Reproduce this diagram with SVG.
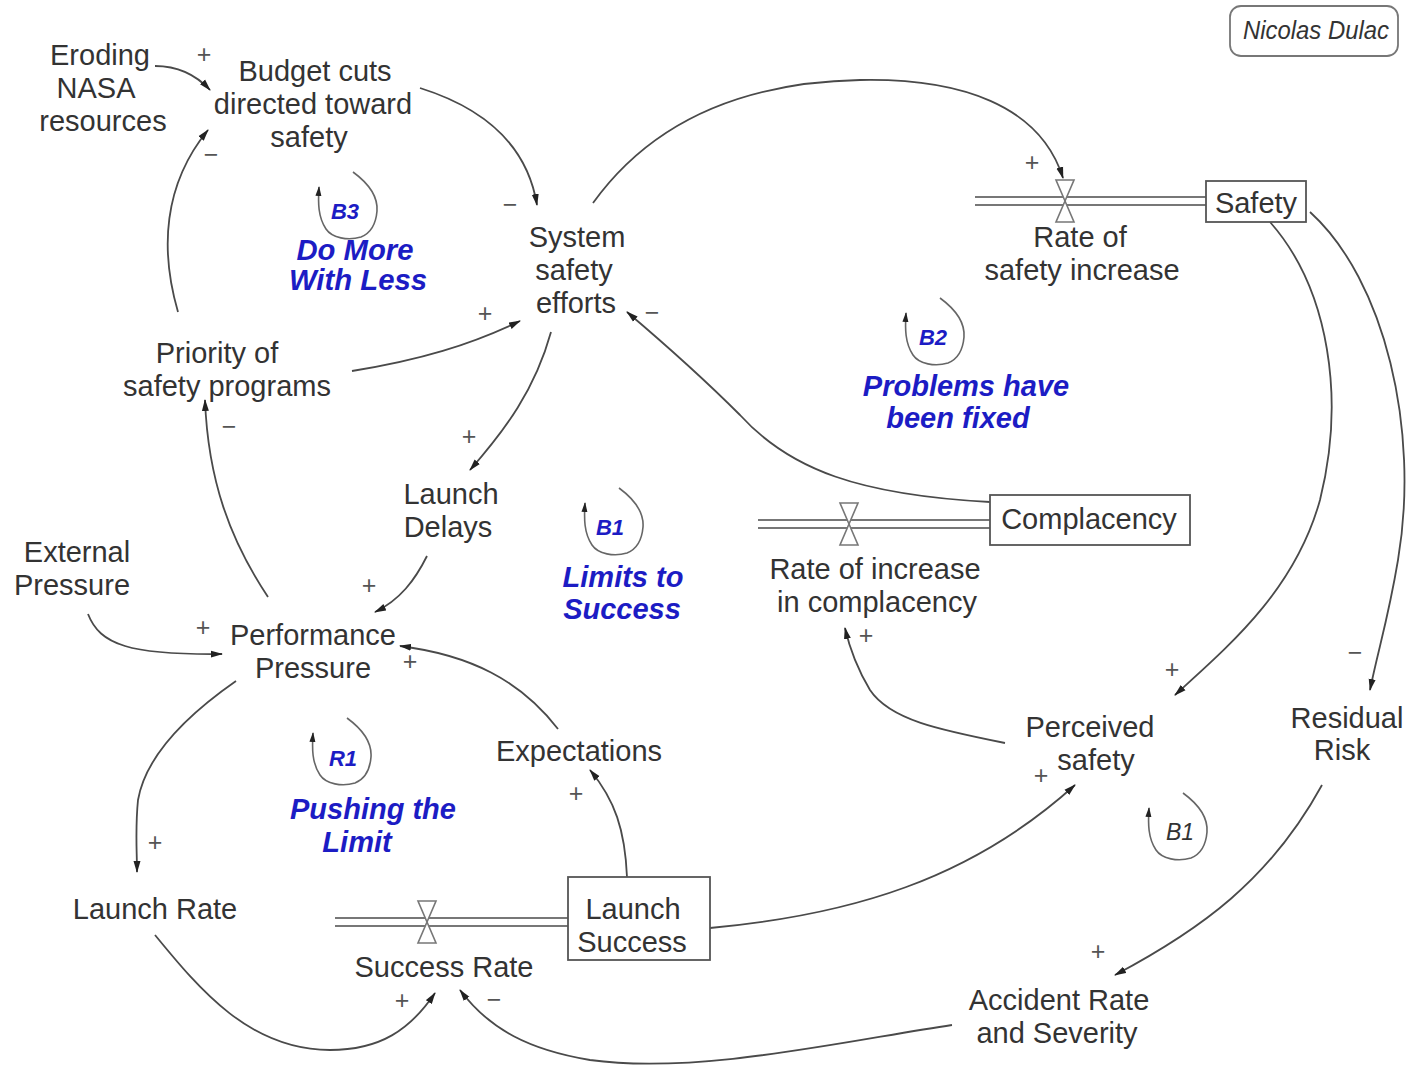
<svg xmlns="http://www.w3.org/2000/svg" width="1420" height="1070" viewBox="0 0 1420 1070">
  <defs>
    <style>
      .lbl { font-family: "Liberation Sans", Arial, sans-serif; font-size: 29px; fill: #333; text-anchor: middle; }
      .sign { font-family: "Liberation Sans", Arial, sans-serif; font-size: 25px; fill: #555; text-anchor: middle; }
      .loop { font-family: "Liberation Sans", Arial, sans-serif; font-size: 29px; font-weight: bold; font-style: italic; fill: #1c1cc4; text-anchor: middle; }
      .loopid { font-family: "Liberation Sans", Arial, sans-serif; font-size: 22px; font-weight: bold; font-style: italic; fill: #1c1cc4; text-anchor: middle; }
      .link { fill: none; stroke: #4a4a4a; stroke-width: 1.8; marker-end: url(#arrow); }
      .box { fill: #fff; stroke: #555; stroke-width: 1.8; }
      .pipe { fill: none; stroke: #777; stroke-width: 1.8; }
      .valve { fill: #fff; stroke: #777; stroke-width: 1.6; }
      .loopsym { fill: none; stroke: #666; stroke-width: 1.6; marker-end: url(#arrowSmall); }
    </style>
    <marker id="arrow" markerUnits="userSpaceOnUse" markerWidth="12" markerHeight="8" refX="11" refY="4" orient="auto">
      <path d="M0,0.5 L12,4 L0,7.5 z" fill="#222"/>
    </marker>
    <marker id="arrowSmall" markerUnits="userSpaceOnUse" markerWidth="10" markerHeight="7" refX="9" refY="3.5" orient="auto">
      <path d="M0,0.5 L10,3.5 L0,6.5 z" fill="#222"/>
    </marker>
    <!-- loop marker drawn around its label, relative to the label centre -->
    <path id="loopPath" d="M7,-39 C22,-28 32,-14 31,0 C30,12 25,22 15,26 C2,30 -14,27 -20,18 C-28,6 -28,-8 -27,-24"/>
    <!-- hourglass valve centred on a flow pipe -->
    <path id="valveShape" d="M-9,-21 L9,-21 L0,0 Z M-9,21 L9,21 L0,0 Z"/>
  </defs>

  <!-- connectors -->
  <g id="connectors">
    <path class="link" d="M155,66 C180,66 197,76 210,90"/>
    <path class="link" d="M178,312 C160,250 163,185 208,130"/>
    <path class="link" d="M420,88 C490,110 528,150 537,205"/>
    <path class="link" d="M593,203 C660,110 760,82 860,80 C960,78 1040,105 1063,178"/>
    <path class="link" d="M352,371 C420,360 470,345 520,321"/>
    <path class="link" d="M551,332 C535,390 505,430 470,470"/>
    <path class="link" d="M990,502 C860,495 790,470 740,415 C700,375 660,340 627,312"/>
    <path class="link" d="M1270,222 C1330,290 1345,400 1320,500 C1295,590 1230,645 1175,695"/>
    <path class="link" d="M1310,212 C1385,280 1420,430 1398,560 C1388,620 1378,650 1370,690"/>
    <path class="link" d="M1005,743 C940,730 890,720 870,690 C858,670 850,650 845,628"/>
    <path class="link" d="M427,556 C415,580 400,600 375,612"/>
    <path class="link" d="M88,614 C100,645 130,655 222,654"/>
    <path class="link" d="M268,597 C230,540 208,480 205,400"/>
    <path class="link" d="M236,681 C180,720 145,760 138,800 C135,830 137,850 137,872"/>
    <path class="link" d="M558,729 C520,680 470,655 400,646"/>
    <path class="link" d="M627,877 C625,830 615,800 590,770"/>
    <path class="link" d="M710,928 C850,915 970,880 1075,785"/>
    <path class="link" d="M1322,785 C1270,880 1200,930 1115,975"/>
    <path class="link" d="M952,1025 C850,1040 700,1075 590,1060 C530,1050 490,1030 460,990"/>
    <path class="link" d="M155,935 C200,990 250,1050 330,1050 C380,1050 410,1030 435,993"/>
  </g>

  <!-- polarity signs -->
  <g id="signs">
    <text class="sign" x="204" y="63">+</text>
    <text class="sign" x="211" y="163">−</text>
    <text class="sign" x="510" y="213">−</text>
    <text class="sign" x="1032" y="171">+</text>
    <text class="sign" x="485" y="322">+</text>
    <text class="sign" x="652" y="321">−</text>
    <text class="sign" x="469" y="445">+</text>
    <text class="sign" x="1172" y="678">+</text>
    <text class="sign" x="1355" y="661">−</text>
    <text class="sign" x="866" y="644">+</text>
    <text class="sign" x="369" y="594">+</text>
    <text class="sign" x="203" y="636">+</text>
    <text class="sign" x="229" y="435">−</text>
    <text class="sign" x="155" y="851">+</text>
    <text class="sign" x="410" y="670">+</text>
    <text class="sign" x="576" y="802">+</text>
    <text class="sign" x="1041" y="784">+</text>
    <text class="sign" x="1098" y="960">+</text>
    <text class="sign" x="494" y="1008">−</text>
    <text class="sign" x="402" y="1009">+</text>
  </g>

  <!-- flow pipes and valves -->
  <g id="flows">
    <path class="pipe" d="M975,197 H1206 M975,205 H1206"/>
    <use href="#valveShape" class="valve" transform="translate(1065,201)"/>
    <path class="pipe" d="M758,520 H990 M758,528 H990"/>
    <use href="#valveShape" class="valve" transform="translate(849,524)"/>
    <path class="pipe" d="M335,918 H568 M335,926 H568"/>
    <use href="#valveShape" class="valve" transform="translate(427,922)"/>
  </g>

  <!-- nodes -->
  <g id="eroding-nasa-resources">
    <text class="lbl" x="100" y="65">Eroding</text>
    <text class="lbl" x="96" y="98">NASA</text>
    <text class="lbl" x="103" y="131">resources</text>
  </g>
  <g id="budget-cuts">
    <text class="lbl" x="315" y="81">Budget cuts</text>
    <text class="lbl" x="313" y="114">directed toward</text>
    <text class="lbl" x="309" y="147">safety</text>
  </g>
  <g id="system-safety-efforts">
    <text class="lbl" x="577" y="247">System</text>
    <text class="lbl" x="574" y="280">safety</text>
    <text class="lbl" x="576" y="313">efforts</text>
  </g>
  <g id="rate-of-safety-increase">
    <text class="lbl" x="1080" y="247">Rate of</text>
    <text class="lbl" x="1082" y="280">safety increase</text>
  </g>
  <g id="safety">
    <rect class="box" x="1206" y="181" width="100" height="41"/>
    <text class="lbl" x="1256" y="213">Safety</text>
  </g>
  <g id="author">
    <rect x="1230" y="6" width="168" height="50" rx="11" fill="#fff" stroke="#777" stroke-width="1.8"/>
    <text x="1316" y="39" font-family="'Liberation Sans', Arial, sans-serif" font-size="25" font-style="italic" fill="#333" text-anchor="middle" textLength="146" lengthAdjust="spacingAndGlyphs">Nicolas Dulac</text>
  </g>
  <g id="priority-of-safety-programs">
    <text class="lbl" x="217" y="363">Priority of</text>
    <text class="lbl" x="227" y="396">safety programs</text>
  </g>
  <g id="launch-delays">
    <text class="lbl" x="451" y="504">Launch</text>
    <text class="lbl" x="448" y="537">Delays</text>
  </g>
  <g id="complacency">
    <rect class="box" x="990" y="495" width="200" height="50"/>
    <text class="lbl" x="1089" y="529">Complacency</text>
  </g>
  <g id="rate-of-increase-in-complacency">
    <text class="lbl" x="875" y="579">Rate of increase</text>
    <text class="lbl" x="877" y="612">in complacency</text>
  </g>
  <g id="external-pressure">
    <text class="lbl" x="77" y="562">External</text>
    <text class="lbl" x="72" y="595">Pressure</text>
  </g>
  <g id="performance-pressure">
    <text class="lbl" x="313" y="645">Performance</text>
    <text class="lbl" x="313" y="678">Pressure</text>
  </g>
  <g id="expectations">
    <text class="lbl" x="579" y="761">Expectations</text>
  </g>
  <g id="perceived-safety">
    <text class="lbl" x="1090" y="737">Perceived</text>
    <text class="lbl" x="1096" y="770">safety</text>
  </g>
  <g id="residual-risk">
    <text class="lbl" x="1347" y="728">Residual</text>
    <text class="lbl" x="1342" y="760">Risk</text>
  </g>
  <g id="launch-rate">
    <text class="lbl" x="155" y="919">Launch Rate</text>
  </g>
  <g id="success-rate">
    <text class="lbl" x="444" y="977">Success Rate</text>
  </g>
  <g id="launch-success">
    <rect class="box" x="568" y="877" width="142" height="83"/>
    <text class="lbl" x="633" y="919">Launch</text>
    <text class="lbl" x="632" y="952">Success</text>
  </g>
  <g id="accident-rate-and-severity">
    <text class="lbl" x="1059" y="1010">Accident Rate</text>
    <text class="lbl" x="1057" y="1043">and Severity</text>
  </g>

  <!-- loop identifiers -->
  <g id="loop-b3">
    <use href="#loopPath" class="loopsym" transform="translate(346,211)"/>
    <text class="loopid" x="345" y="219">B3</text>
    <text class="loop" x="355" y="260" font-size="27" textLength="117" lengthAdjust="spacingAndGlyphs">Do More</text>
    <text class="loop" x="358" y="290" font-size="27" textLength="138" lengthAdjust="spacingAndGlyphs">With Less</text>
  </g>
  <g id="loop-b2">
    <use href="#loopPath" class="loopsym" transform="translate(933,337)"/>
    <text class="loopid" x="933" y="345">B2</text>
    <text class="loop" x="966" y="396">Problems have</text>
    <text class="loop" x="958" y="428">been fixed</text>
  </g>
  <g id="loop-b1-limits">
    <use href="#loopPath" class="loopsym" transform="translate(612,527)"/>
    <text class="loopid" x="610" y="535">B1</text>
    <text class="loop" x="623" y="587">Limits to</text>
    <text class="loop" x="622" y="619">Success</text>
  </g>
  <g id="loop-r1">
    <use href="#loopPath" class="loopsym" transform="translate(340,757)"/>
    <text class="loopid" x="343" y="766">R1</text>
    <text class="loop" x="373" y="819">Pushing the</text>
    <text class="loop" x="357" y="852">Limit</text>
  </g>
  <g id="loop-b1-safety">
    <use href="#loopPath" class="loopsym" transform="translate(1176,832)"/>
    <text x="1180" y="840" font-family="'Liberation Sans', Arial, sans-serif" font-size="23" font-style="italic" fill="#333" text-anchor="middle">B1</text>
  </g>
</svg>
